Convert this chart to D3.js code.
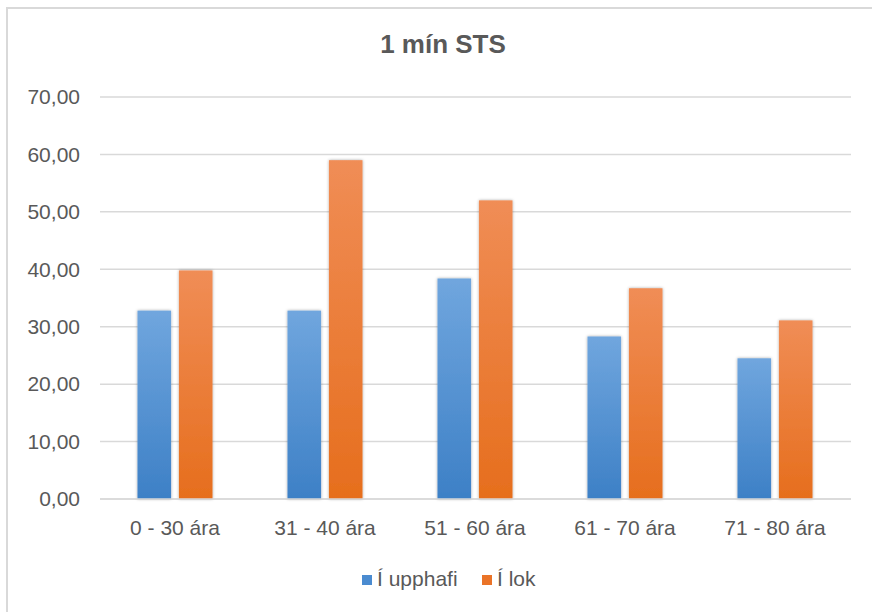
<!DOCTYPE html>
<html><head><meta charset="utf-8">
<script src="https://cdn.jsdelivr.net/npm/d3@7"></script>
<style>
html,body{margin:0;padding:0;background:#fff;}
svg{display:block;font-family:"Liberation Sans",Arial,sans-serif;}
</style></head>
<body>
<svg id="chart" width="872" height="612"></svg>
<script>
const categories = ["0 - 30 ára", "31 - 40 ára", "51 - 60 ára", "61 - 70 ára", "71 - 80 ára"];
const seriesNames = ["Í upphafi", "Í lok"];
const upphafi = [32.8, 32.8, 38.4, 28.3, 24.5];
const lok = [39.8, 59.0, 52.0, 36.7, 31.1];
const yTicks = [0, 10, 20, 30, 40, 50, 60, 70];
const title = "1 mín STS";

const svg = d3.select("#chart");
const defs = svg.append("defs");
const grads = [
  {id:"gBlue", top:"#70a6de", bot:"#3d80c6"},
  {id:"gOrange", top:"#f08d56", bot:"#e66e1d"}
];
grads.forEach(g => {
  const lg = defs.append("linearGradient").attr("id", g.id).attr("x1",0).attr("y1",0).attr("x2",0).attr("y2",1);
  lg.append("stop").attr("offset","0%").attr("stop-color", g.top);
  lg.append("stop").attr("offset","100%").attr("stop-color", g.bot);
});
const f = defs.append("filter").attr("id","shadow").attr("x","-30%").attr("y","-10%").attr("width","160%").attr("height","120%");
f.append("feDropShadow").attr("dx",0).attr("dy",0).attr("stdDeviation",1.6).attr("flood-color","#000").attr("flood-opacity",0.35);

// border
svg.append("rect").attr("x",7).attr("y",8).attr("width",880).attr("height",620)
  .attr("fill","none").attr("stroke","#d9d9d9").attr("stroke-width",2);

const x = d3.scaleBand().domain(categories).range([100, 850]).paddingInner(0.5).paddingOuter(0.25);
const xs = d3.scaleBand().domain(seriesNames).range([0, x.bandwidth()]).paddingInner(0.19);
const y = d3.scaleLinear().domain([0, 70]).range([499, 97]);
const fmt = v => d3.format(".2f")(v).replace(".", ",");

// gridlines
svg.append("g").selectAll("line").data(yTicks).join("line")
  .attr("x1",100).attr("x2",851)
  .attr("y1", d => y(d)).attr("y2", d => y(d))
  .attr("stroke","#d9d9d9").attr("stroke-width",1.5);

// y labels
svg.append("g").selectAll("text").data(yTicks).join("text")
  .attr("x",80).attr("y", d => y(d)).attr("dy","0.35em")
  .attr("text-anchor","end").attr("font-size",21).attr("fill","#595959")
  .text(fmt);

// bars
const data = categories.map((c,i) => ({cat:c, vals:[upphafi[i], lok[i]]}));
const colors = ["url(#gBlue)", "url(#gOrange)"];
const groups = svg.append("g").selectAll("g").data(data).join("g")
  .attr("transform", d => `translate(${x(d.cat)},0)`);
groups.selectAll("rect").data(d => d.vals.map((v,j)=>({v, s:seriesNames[j], j}))).join("rect")
  .attr("x", d => xs(d.s)).attr("width", xs.bandwidth())
  .attr("y", d => y(d.v)).attr("height", d => y(0) - y(d.v))
  .attr("fill", d => colors[d.j]).attr("filter","url(#shadow)");

// baseline redraw
svg.append("line").attr("x1",100).attr("x2",851).attr("y1",y(0)).attr("y2",y(0))
  .attr("stroke","#d9d9d9").attr("stroke-width",1.5);

// x labels
svg.append("g").selectAll("text").data(categories).join("text")
  .attr("x", d => x(d) + x.bandwidth()/2).attr("y",535)
  .attr("text-anchor","middle").attr("font-size",21).attr("fill","#595959")
  .text(d => d);

// title
svg.append("text").attr("x",443).attr("y",53).attr("text-anchor","middle")
  .attr("font-size",26).attr("font-weight","bold").attr("fill","#595959").text(title);

// legend
const legendItems = [{name:seriesNames[0], color:"#4a8bd0", x:362},{name:seriesNames[1], color:"#ea7327", x:482}];
const lg = svg.append("g").selectAll("g").data(legendItems).join("g")
  .attr("transform", d => `translate(${d.x},0)`);
lg.append("rect").attr("x",0).attr("y",575).attr("width",10).attr("height",10).attr("fill", d => d.color);
lg.append("text").attr("x",15).attr("y",586).attr("font-size",21).attr("fill","#595959").text(d => d.name);
</script>
</body></html>
